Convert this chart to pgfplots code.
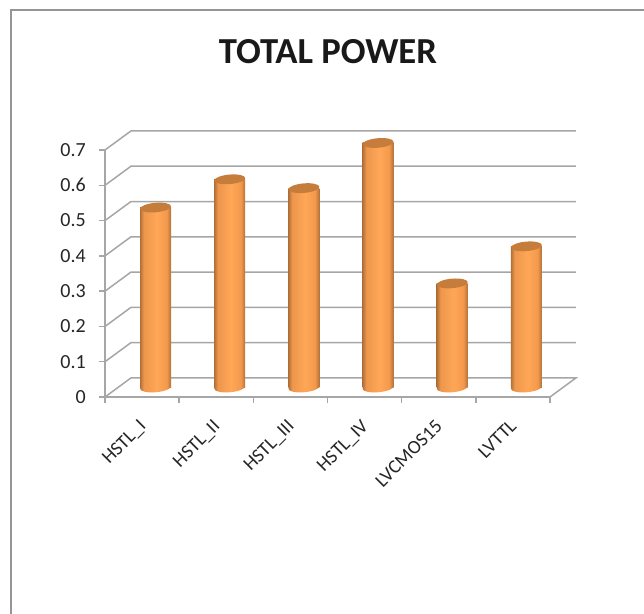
\documentclass[border=0pt]{standalone}
\usepackage{pgfplots}
\pgfplotsset{compat=1.18}
\usepackage{fontspec}
\setmainfont{Carlito}
\usetikzlibrary{shapes.geometric}
\definecolor{gridgray}{HTML}{A6A6A6}
\definecolor{framegray}{HTML}{969696}
\definecolor{bartop}{HTML}{C67D3C}
\pgfdeclarehorizontalshading{cyl}{100bp}{
  rgb(0bp)=(0.70,0.44,0.22);
  rgb(25bp)=(0.70,0.44,0.22);
  rgb(31bp)=(0.93,0.59,0.30);
  rgb(52bp)=(1,0.655,0.34);
  rgb(68bp)=(0.95,0.60,0.30);
  rgb(75bp)=(0.70,0.44,0.22);
  rgb(100bp)=(0.70,0.44,0.22)}
\newlength{\px}\setlength{\px}{0.75pt}
\pgfplotsset{
  base/.style={scale only axis,width=445\px,height=247\px,
    xmin=-0.5,xmax=5.5,ymin=0,ymax=0.7,clip=false},
  wall/.style={gridgray,line width=1.5\px,no markers,forget plot},
  cylbar/.style={ybar,bar width=31\px,draw=none,no markers,nodes near coords={},
    every node near coord/.append style={fill=bartop},shade,shading=cyl},
}
\begin{document}
\begin{tikzpicture}[x=\px,y=\px]
\useasboundingbox (0,0) rectangle (644,614);
\draw[framegray,line width=2\px] (11,0) -- (11,604) -- (644,604);
\node[font=\bfseries\fontsize{27.5pt}{30pt}\selectfont,text=black!90] at (328,562) {TOTAL POWER};
\begin{axis}[base,at={(105\px,217\px)},anchor=south west,
  axis x line*=bottom,axis y line*=left,
  axis line style={gridgray,line width=1.5\px,-},
  tick style={gridgray,line width=1.5\px},
  major tick length=6\px,
  tick align=outside,
  xtick={-0.5,0.5,1.5,2.5,3.5,4.5,5.5},
  xticklabels={},
  extra x ticks={0,1,2,3,4,5},
  extra x tick style={major tick length=0pt,tick style={draw=none},
    xticklabel style={rotate=45,anchor=north east,inner sep=0pt,
      font=\fontsize{14.5pt}{16pt}\selectfont,xshift=-18\px,yshift=-12\px,text=black!85}},
  extra x tick labels={HSTL\_I,HSTL\_II,HSTL\_III,HSTL\_IV,LVCMOS15,LVTTL},
  ytick={0,0.1,0.2,0.3,0.4,0.5,0.6,0.7},
  yticklabels={0,0.1,0.2,0.3,0.4,0.5,0.6,0.7},
  yticklabel style={font=\fontsize{15pt}{16pt}\selectfont,inner sep=0pt,xshift=-13\px,text=black!85},
]
\addplot[wall] coordinates {(-0.5,0) (-0.15,0.054) (5.85,0.054) (5.5,0)};
\addplot[wall] coordinates {(-0.5,0.1) (-0.15,0.154) (5.85,0.154)};
\addplot[wall] coordinates {(-0.5,0.2) (-0.15,0.254) (5.85,0.254)};
\addplot[wall] coordinates {(-0.5,0.3) (-0.15,0.354) (5.85,0.354)};
\addplot[wall] coordinates {(-0.5,0.4) (-0.15,0.454) (5.85,0.454)};
\addplot[wall] coordinates {(-0.5,0.5) (-0.15,0.554) (5.85,0.554)};
\addplot[wall] coordinates {(-0.5,0.6) (-0.15,0.654) (5.85,0.654)};
\addplot[wall] coordinates {(-0.5,0.7) (-0.15,0.754) (5.85,0.754)};
\end{axis}
\begin{axis}[base,at={(118.5\px,226.5\px)},anchor=south west,axis lines=none,
  nodes near coords={},
  every node near coord/.append style={anchor=center,shape=ellipse,inner sep=0pt,
    minimum width=31\px,minimum height=9.5\px,rotate=5},
]
\addplot[draw=none,no markers,
  every node near coord/.append style={shade,shading=cyl}]
  coordinates {(0,0) (1,0) (2,0) (3,0) (4,0) (5,0)};
\addplot[cylbar] coordinates {(0,0.51)};
\addplot[cylbar] coordinates {(1,0.59)};
\addplot[cylbar] coordinates {(2,0.565)};
\addplot[cylbar] coordinates {(3,0.693)};
\addplot[cylbar] coordinates {(4,0.295)};
\addplot[cylbar] coordinates {(5,0.4)};
\end{axis}
\end{tikzpicture}
\end{document}
